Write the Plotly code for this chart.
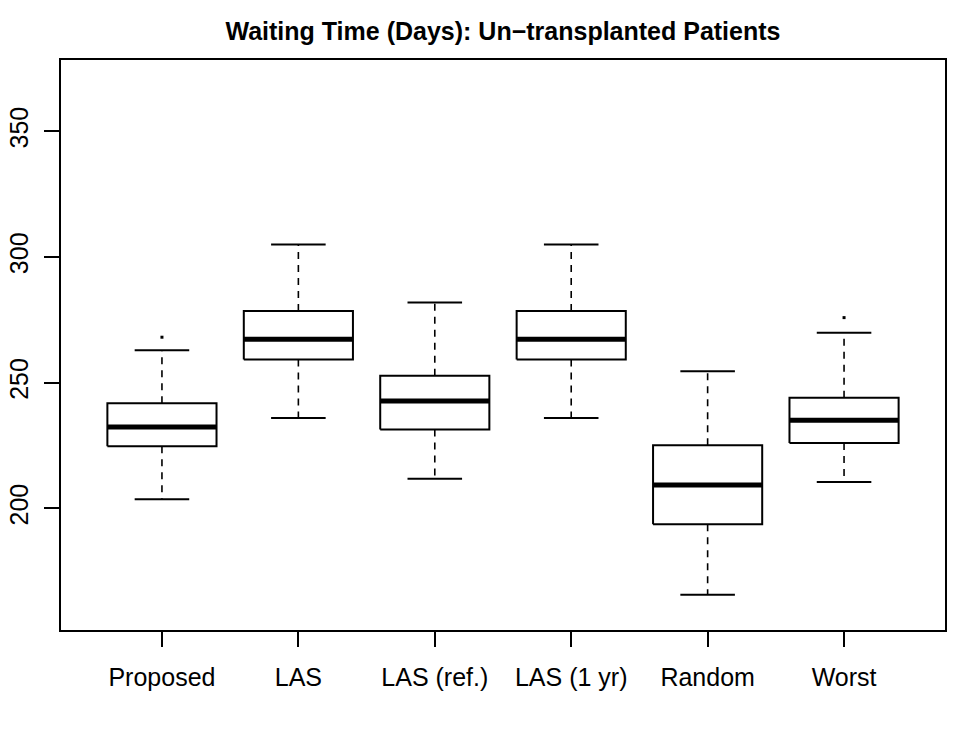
import plotly.graph_objects as go

categories = ["Proposed", "LAS", "LAS (ref.)", "LAS (1 yr)", "Random", "Worst"]
lower_whisker = [203.6, 236.0, 211.8, 236.0, 165.6, 210.5]
q1 = [224.7, 259.2, 231.4, 259.2, 193.7, 226.0]
median = [232.4, 267.3, 242.7, 267.3, 209.3, 235.1]
q3 = [241.8, 278.5, 252.8, 278.5, 225.1, 244.0]
upper_whisker = [262.9, 305.0, 281.9, 305.0, 254.6, 269.9]
outlier_cat = ["Proposed", "Worst"]
outlier_val = [268.1, 275.9]

y_ticks = [200, 250, 300, 350]
y_limits = [160, 370]

BOX_HALF = 0.4
CAP_HALF = 0.2
pos = {c: i + 1 for i, c in enumerate(categories)}

bx, by, mx, my, wx, wy, cx, cy = [], [], [], [], [], [], [], []
for i, c in enumerate(categories):
    x = pos[c]
    bx += [x - BOX_HALF, x + BOX_HALF, x + BOX_HALF, x - BOX_HALF, x - BOX_HALF, None]
    by += [q1[i], q1[i], q3[i], q3[i], q1[i], None]
    mx += [x - BOX_HALF, x + BOX_HALF, None]
    my += [median[i], median[i], None]
    wx += [x, x, None, x, x, None]
    wy += [q3[i], upper_whisker[i], None, q1[i], lower_whisker[i], None]
    cx += [x - CAP_HALF, x + CAP_HALF, None, x - CAP_HALF, x + CAP_HALF, None]
    cy += [upper_whisker[i], upper_whisker[i], None, lower_whisker[i], lower_whisker[i], None]

fig = go.Figure()
fig.add_trace(go.Scatter(x=wx, y=wy, mode="lines",
                         line=dict(color="black", width=1.6, dash="7px,6px"),
                         hoverinfo="skip", showlegend=False))
fig.add_trace(go.Scatter(x=cx, y=cy, mode="lines",
                         line=dict(color="black", width=2),
                         hoverinfo="skip", showlegend=False))
fig.add_trace(go.Scatter(x=bx, y=by, mode="lines",
                         line=dict(color="black", width=2),
                         hoverinfo="skip", showlegend=False))
fig.add_trace(go.Scatter(x=mx, y=my, mode="lines",
                         line=dict(color="black", width=5),
                         hoverinfo="skip", showlegend=False))
fig.add_trace(go.Scatter(x=[pos[c] for c in outlier_cat], y=outlier_val, mode="markers",
                         marker=dict(color="black", size=3, symbol="square"),
                         hoverinfo="skip", showlegend=False))

span = y_limits[1] - y_limits[0]
yr = [y_limits[0] - 0.04 * span, y_limits[1] + 0.04 * span]
n = len(categories)
xr = [0.5 - 0.04 * n, n + 0.5 + 0.04 * n]

font = "Liberation Sans, Arial, Helvetica, sans-serif"
fig.update_layout(
    width=975, height=750,
    margin=dict(l=61, r=30, t=60, b=120, autoexpand=False),
    paper_bgcolor="white", plot_bgcolor="white",
    font=dict(family=font, color="black", size=25),
    title=dict(text="<b>Waiting Time (Days): Un\u2212transplanted Patients</b>",
               x=0.5, xref="paper", xanchor="center",
               y=1 - 31 / 750, yref="container", yanchor="middle",
               font=dict(family=font, size=25, color="black")),
    xaxis=dict(range=xr, tickmode="array", tickvals=[pos[c] for c in categories],
               ticktext=categories, showgrid=False, zeroline=False, automargin=False,
               showline=True, linecolor="black", linewidth=2, mirror=True,
               ticks="outside", ticklen=15, tickwidth=1.5, tickcolor="black",
               ticklabelstandoff=9, tickfont=dict(size=25)),
    yaxis=dict(range=yr, tickmode="array", tickvals=y_ticks,
               showgrid=False, zeroline=False, automargin=False,
               showline=True, linecolor="black", linewidth=2, mirror=True,
               ticks="outside", ticklen=15, tickwidth=1.5, tickcolor="black",
               tickangle=-90, ticklabelstandoff=6, tickfont=dict(size=25)),
)

fig.write_html("out.html")
